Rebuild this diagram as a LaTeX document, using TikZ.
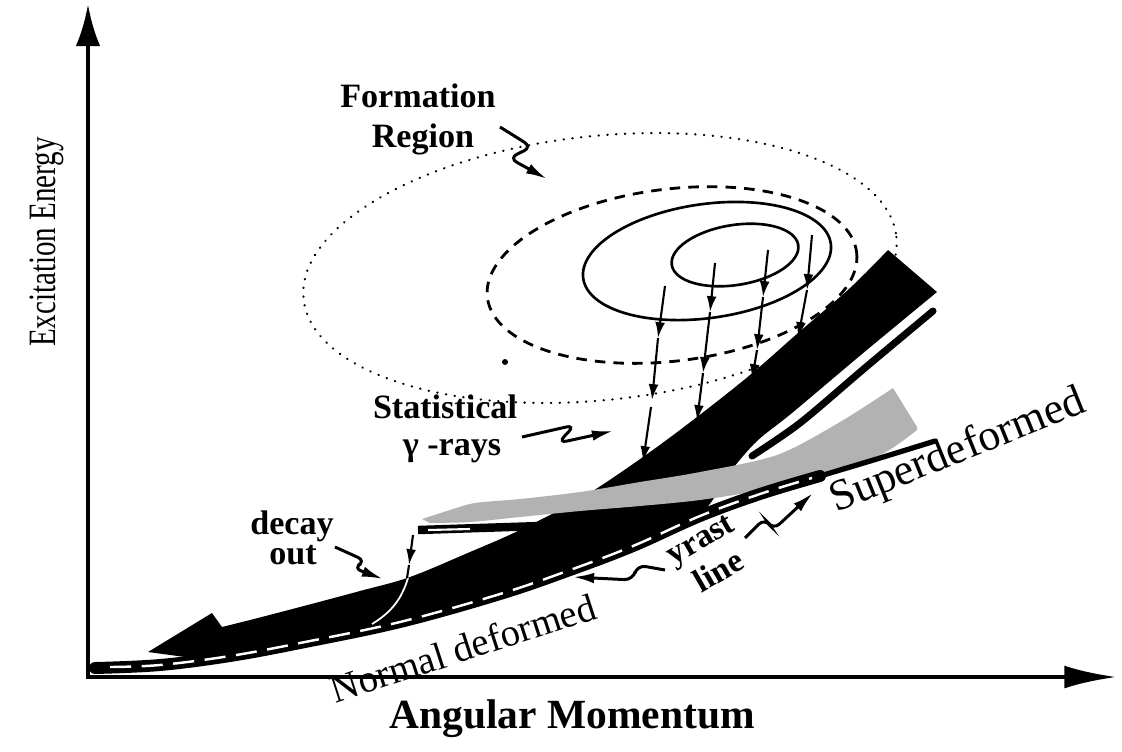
\documentclass[tikz,border=0pt]{standalone}
\usepackage{fontspec}
\usepackage{graphicx}
\setmainfont{Liberation Serif}
\usetikzlibrary{arrows.meta}
\begin{document}
\begin{tikzpicture}[x=0.01cm,y=-0.01cm,
  ell/.style={line width=0.75pt},
  dotell/.style={line width=0.65pt, dash pattern=on 0.1pt off 2.4pt, line cap=round},
  dashell/.style={line width=0.8pt, dash pattern=on 3pt off 2.3pt},
  garrow/.style={line width=0.6pt, -{Latex[length=4.5pt,width=2.8pt]}},
  squig/.style={line width=0.85pt, rounded corners=2.5pt, -{Latex[length=6pt,width=3pt]}},
  axisline/.style={line width=1.3pt, line join=miter},
  lbl/.style={font=\bfseries\fontsize{9.7pt}{11.4pt}\selectfont, inner sep=0pt},
  rlbl/.style={font=\fontsize{11pt}{13pt}\selectfont, inner sep=0pt},
  greyfill/.style={fill=black!30},
  whitedash/.style={white, line width=0.7pt, dash pattern=on 6pt off 3pt}
]
\useasboundingbox (0,0) rectangle (1122,751);

% axes
\coordinate (O) at (88,677);
\coordinate (ytip) at (88,4);
\coordinate (xtip) at (1117,677);
\draw[axisline, {Latex[length=12pt,width=7pt]}-{Latex[length=15pt,width=6.5pt]}] (ytip) -- (O) -- (xtip);

% formation region ellipses
\draw[dotell, rotate around={6:(600,268)}] (600,268) ellipse [x radius=298, y radius=132];
\draw[dashell, rotate around={7:(672,275)}] (672,275) ellipse [x radius=186, y radius=86];
\draw[ell, rotate around={8:(707,261)}] (707,261) ellipse [x radius=125, y radius=57];
\draw[ell, rotate around={9:(735,255)}] (735,255) ellipse [x radius=64, y radius=30];
\fill (505,362) circle [radius=3];

% superdeformed / normal deformed black band
\fill[black] (888,250) -- (937,292)
  -- plot[smooth, tension=0.5] coordinates {(937,292) (862,354) (792,413) (757,441) (730,472) (700,514) (633,544) (570,568) (500,592) (400,620) (300,641) (230,654) (200,659)}
  -- (148,652) -- (212,613)
  -- plot[smooth, tension=0.55] coordinates {(222,627) (250,620) (300,607) (360,591) (410,577) (470,552) (520,530) (583,497) (643,457) (697,417) (750,375) (798,333) (850,288) (888,250)}
  -- cycle;

% thin line below the band
\draw[line width=2pt, line cap=round] plot[smooth] coordinates {(933,311) (866,367) (800,423) (752,456)};

% black strip under grey tip
\draw[line width=2.4pt] (418,530) -- (540,526);
\draw[white, line width=0.6pt] (428,530) -- (470,529);

% grey stippled strip
\fill[greyfill] plot[smooth, tension=0.5] coordinates {(422,519) (450,510) (475,503) (520,499) (580,492) (640,482) (700,472) (777,455) (840,422) (893,388)}
  -- (917,427)
  -- plot[smooth, tension=0.5] coordinates {(917,430) (880,455) (820,473) (760,490) (700,500) (640,506) (580,511) (520,517) (470,522) (430,523)}
  -- cycle;

% yrast lines
\draw[line width=1.5pt, line cap=round] plot[smooth, tension=0.6] coordinates {(95,668) (160,665) (230,656) (300,643) (400,622) (500,594) (570,570) (633,546) (700,516) (760,494) (820,476) (880,458) (935,441)};
\draw[line width=3.4pt, line cap=round] plot[smooth, tension=0.6] coordinates {(95,668) (160,665) (230,656) (300,643) (400,622) (500,594) (570,570) (633,546) (700,516) (760,494) (820,476)};
\draw[whitedash] plot[smooth, tension=0.6] coordinates {(110,667) (160,665) (230,656) (300,643) (400,622) (500,594) (570,570) (633,546) (700,516) (760,494) (812,478)};

% decay out
\draw[white, line width=0.5pt] (408,578) .. controls (402,598) and (392,612) .. (372,624);
\draw[garrow] (413,535) -- (409,565);
\draw[line width=0.6pt] (409,565) -- (407,578);

% statistical gamma-ray arrows
\draw[garrow] (665,286) -- (658,338);
\draw[garrow] (658,338) -- (652,400);
\draw[garrow] (651,407) -- (643,462);
\draw[garrow] (715,263) -- (710,312);
\draw[garrow] (710,312) -- (703,373);
\draw[garrow] (703,373) -- (697,421);
\draw[garrow] (768,250) -- (763,297);
\draw[garrow] (763,297) -- (757,350);
\draw[garrow] (757,350) -- (752,380);
\draw[garrow] (812,235) -- (807,290);
\draw[garrow] (807,290) -- (798,338);

% labels
\node[lbl, anchor=base] (fr1) at (418,107) {Formation};
\node[lbl, anchor=base] (fr2) at (423,147) {Region};
\node[lbl, anchor=base] (st1) at (445,418) {Statistical};
\node[lbl, anchor=base] (st2) at (452,455) {γ -rays};
\node[lbl, anchor=base] (dc1) at (292,534) {decay};
\node[lbl, anchor=base] (dc2) at (293,564) {out};
\node[lbl, rotate=30, align=center, font=\bfseries\fontsize{9.5pt}{10.8pt}\selectfont] (yr) at (710,556) {yrast\\line};
\node[rlbl, rotate=18] (nd) at (463,648) {Normal deformed};
\node[rlbl, rotate=22, font=\fontsize{12.5pt}{14pt}\selectfont] (sd) at (958,452) {Superdeformed};
\node[font=\bfseries\fontsize{11.8pt}{14pt}\selectfont, inner sep=0pt, anchor=base] (xl) at (572,728) {Angular Momentum};
\node[rotate=90, font=\fontsize{11pt}{13pt}\selectfont, inner sep=0pt] (yl) at (47,242) {\scalebox{0.75}[1]{Excitation Energy}};

% squiggle pointers
\coordinate (f0) at (500,127); \coordinate (f1) at (547,179);
\draw[squig] (f0) -- (532,147) -- (509,158) -- (f1);
\coordinate (s0) at (522,437); \coordinate (s1) at (613,431);
\draw[squig] (s0) -- (575,425) -- (558,443) -- (s1);
\coordinate (d0) at (335,547); \coordinate (d1) at (383,579);
\draw[squig] (d0) -- (366,561) -- (353,568) -- (d1);
\coordinate (y0) at (745,538); \coordinate (y1) at (813,493);
\draw[squig] (y0) -- (765,518) -- (773,530) -- (y1);
\coordinate (z0) at (665,570); \coordinate (z1) at (573,577);
\draw[squig] (z0) -- (637,565) -- (633,580) -- (z1);
\end{tikzpicture}
\end{document}
